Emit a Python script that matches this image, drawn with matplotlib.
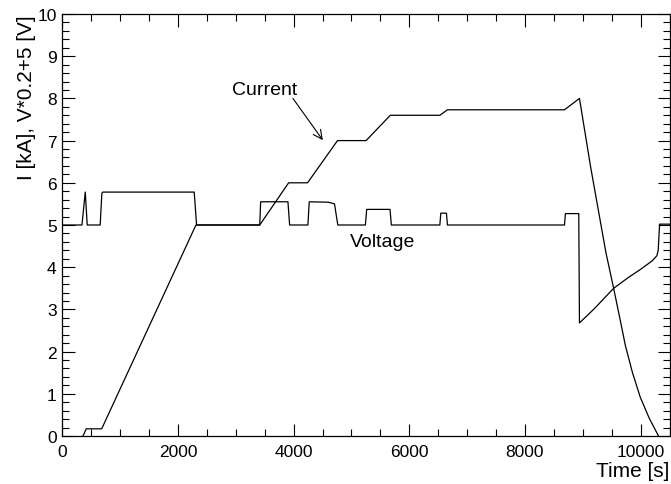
import matplotlib
matplotlib.use('Agg')
import matplotlib.pyplot as plt
from matplotlib.ticker import MultipleLocator

plt.rcParams['font.family'] = ['Liberation Sans', 'DejaVu Sans']

# Current [kA] vs time [s]
current_t = [357, 414, 681, 2311, 3414, 3914, 4241, 4759,
             5253, 5672, 6529, 6660, 8684, 8943, 9133, 9400,
             9534, 9640, 9736, 9860, 9994, 10150, 10310]
current_i = [0.0, 0.17, 0.17, 5.0, 5.0, 6.0, 6.0, 7.0,
             7.0, 7.6, 7.6, 7.73, 7.73, 8.0, 6.4, 4.35,
             3.5, 2.8, 2.15, 1.5, 0.92, 0.42, 0.0]

# Voltage scaled as V*0.2+5
voltage_t = [0, 340, 397, 431, 655, 684, 700, 2281, 2322, 3414, 3430, 3902,
             3931, 4247, 4270, 4600, 4707, 4764, 5241, 5264, 5667, 5690,
             6529, 6545, 6643, 6660, 8684, 8700, 8931, 8943, 9195, 9534,
             9793, 10000, 10200, 10281, 10305, 10320, 10330, 10500]
voltage_v = [5.0, 5.0, 5.78, 5.0, 5.0, 5.75, 5.78, 5.78, 5.0, 5.0, 5.55, 5.55,
             5.0, 5.0, 5.55, 5.54, 5.5, 5.0, 5.0, 5.37, 5.37, 5.0,
             5.0, 5.28, 5.28, 5.0, 5.0, 5.27, 5.27, 2.68, 3.01, 3.5,
             3.76, 3.95, 4.15, 4.27, 4.4, 4.8, 5.02, 5.02]

fig = plt.figure(figsize=(6.71, 4.85), dpi=100)
ax = fig.add_axes([62.3 / 671, 48 / 485, 607.2 / 671, 422 / 485])

ax.plot(current_t, current_i, color='black', lw=0.9)
ax.plot(voltage_t, voltage_v, color='black', lw=0.9)

ax.text(2931, 8.22, 'Current', fontsize=14, va='center', ha='left')
ax.annotate('', xy=(4505, 7.01), xytext=(3988, 8.0),
            arrowprops=dict(arrowstyle='->', lw=0.8, color='black',
                            mutation_scale=16, shrinkA=0, shrinkB=0))
ax.text(4966, 4.6, 'Voltage', fontsize=14, va='center', ha='left')

ax.set_xlim(0, 10500)
ax.set_ylim(0, 10)
ax.xaxis.set_major_locator(MultipleLocator(2000))
ax.xaxis.set_minor_locator(MultipleLocator(500))
ax.yaxis.set_major_locator(MultipleLocator(1))
ax.yaxis.set_minor_locator(MultipleLocator(0.2))
ax.tick_params(which='both', direction='in', top=True, right=True,
               labelsize=12.5, width=0.8)
ax.tick_params(axis='x', which='major', length=9, pad=6)
ax.tick_params(axis='y', which='major', length=9, pad=4)
ax.tick_params(which='minor', length=5)
for s in ax.spines.values():
    s.set_linewidth(0.9)

ax.set_xlabel('Time [s]', fontsize=15, loc='right', labelpad=1)
ax.set_ylabel('I [kA], V*0.2+5 [V]', fontsize=15, loc='top', labelpad=1)

fig.savefig('out.png', dpi=100)
